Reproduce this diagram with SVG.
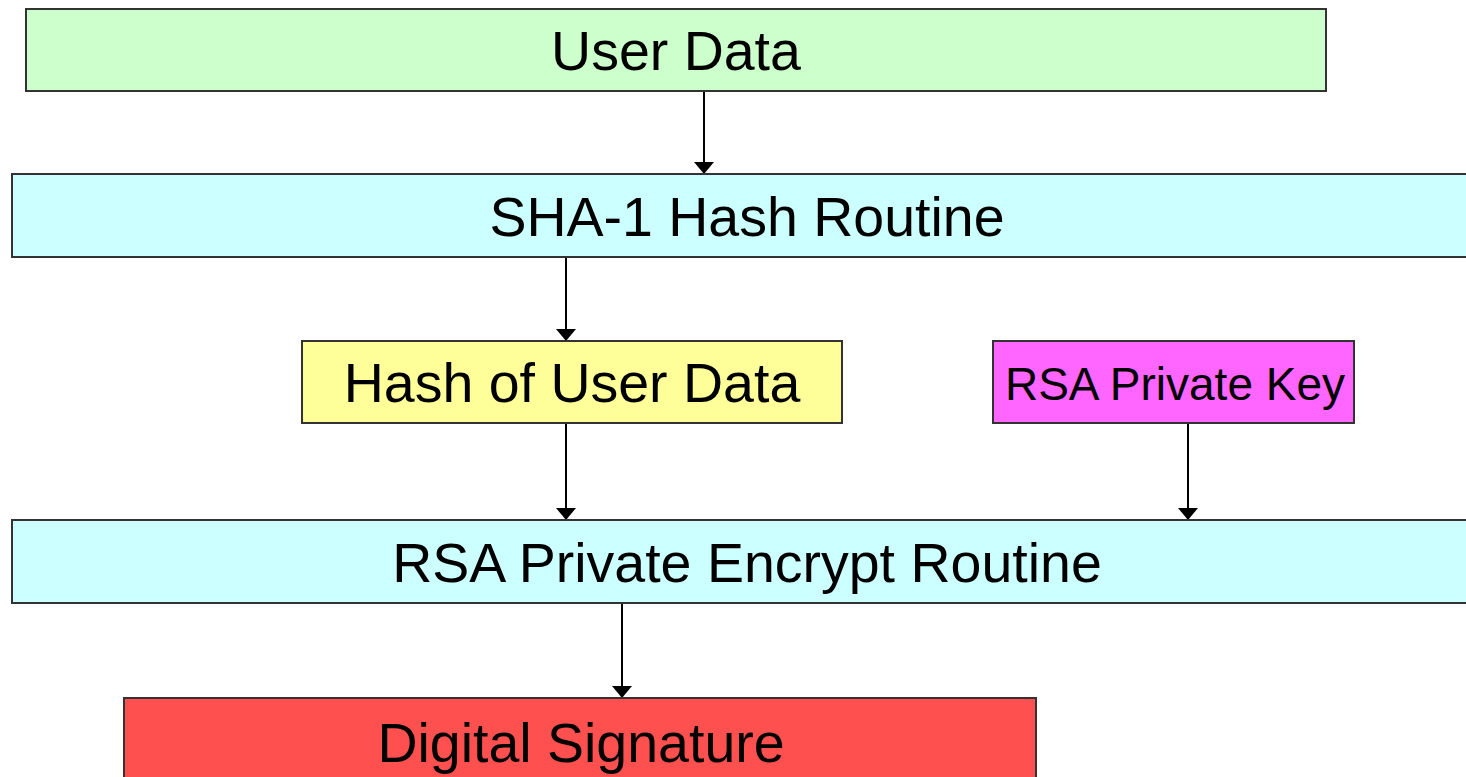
<svg xmlns="http://www.w3.org/2000/svg" width="1466" height="777" viewBox="0 0 1466 777">
  <style>
    .box { stroke: #333333; stroke-width: 2; }
    .lbl { font-family: "Liberation Sans", Arial, sans-serif; font-size: 55.5px; fill: #000000; text-anchor: middle; }
    .small { font-size: 46px; }
    .wire { stroke: #000000; stroke-width: 2; fill: none; marker-end: url(#head); }
  </style>
  <defs>
    <marker id="head" viewBox="0 0 12 20" refX="12" refY="10" markerWidth="12" markerHeight="20" markerUnits="userSpaceOnUse" orient="auto">
      <path d="M0,0 L12,10 L0,20 z" fill="#000000"/>
    </marker>
  </defs>
  <rect width="1466" height="777" fill="#ffffff"/>

  <g id="connectors">
    <line class="wire" x1="704" y1="92" x2="704" y2="174"/>
    <line class="wire" x1="566" y1="258" x2="566" y2="341"/>
    <line class="wire" x1="566" y1="424" x2="566" y2="520"/>
    <line class="wire" x1="1188" y1="424" x2="1188" y2="520"/>
    <line class="wire" x1="622" y1="604" x2="622" y2="698"/>
  </g>

  <g id="user-data">
    <rect class="box" x="26" y="9" width="1300" height="82" fill="#CCFFCC"/>
    <text class="lbl" x="676" y="70">User Data</text>
  </g>

  <g id="sha1-hash">
    <rect class="box" x="12" y="174" width="1470" height="83" fill="#CCFFFF"/>
    <text class="lbl" x="747" y="236">SHA-1 Hash Routine</text>
  </g>

  <g id="hash-of-data">
    <rect class="box" x="302" y="341" width="540" height="82" fill="#FFFF99"/>
    <text class="lbl" x="572" y="402">Hash of User Data</text>
  </g>

  <g id="private-key">
    <rect class="box" x="993" y="341" width="361" height="82" fill="#FF66FF"/>
    <text class="lbl small" x="1175" y="400">RSA Private Key</text>
  </g>

  <g id="encrypt-routine">
    <rect class="box" x="12" y="520" width="1470" height="83" fill="#CCFFFF"/>
    <text class="lbl" x="747" y="582">RSA Private Encrypt Routine</text>
  </g>

  <g id="signature">
    <rect class="box" x="124" y="698" width="912" height="100" fill="#FF5050"/>
    <text class="lbl" x="581" y="762">Digital Signature</text>
  </g>
</svg>
